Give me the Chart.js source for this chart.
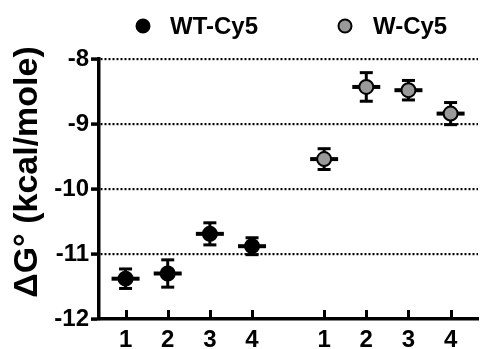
<!DOCTYPE html>
<html><head><meta charset="utf-8">
<script src="https://cdn.jsdelivr.net/npm/chart.js@4.4.1/dist/chart.umd.min.js"></script>
<style>html,body{margin:0;padding:0;background:#fff}</style>
</head><body>
<canvas id="c" width="487" height="349"></canvas>
<script>
// ---- data ----
const groupLabels = ['1', '2', '3', '4'];
const seriesNames = ['WT-Cy5', 'W-Cy5'];
const wtX = [1, 2, 3, 4];
const wX = [5.71, 6.71, 7.71, 8.71];
const wtMean = [-11.38, -11.30, -10.69, -10.88];
const wtErr = [0.15, 0.21, 0.17, 0.13];
const wMean = [-9.54, -8.43, -8.48, -8.84];
const wErr = [0.16, 0.22, 0.15, 0.17];
const yTicks = [-12, -11, -10, -9, -8];
const yTitle = 'ΔG° (kcal/mole)';

const FONT = "'Liberation Sans', Arial, Helvetica, sans-serif";
const seriesFill = ['#000000', '#999999'];
const xPositions = wtX.concat(wX);
const xLabels = groupLabels.concat(groupLabels);

function line(ctx, x1, y1, x2, y2) { ctx.beginPath(); ctx.moveTo(x1, y1); ctx.lineTo(x2, y2); ctx.stroke(); }

const errorBars = {
  id: 'errorBars',
  beforeDatasetsDraw(chart) {
    const ctx = chart.ctx, ys = chart.scales.y;
    chart.data.datasets.forEach((ds, di) => {
      const meta = chart.getDatasetMeta(di);
      meta.data.forEach((pt, i) => {
        const v = ds.data[i].y, e = ds.errors[i];
        const yt = ys.getPixelForValue(v + e), yb = ys.getPixelForValue(v - e);
        ctx.save();
        ctx.strokeStyle = '#000';
        ctx.lineWidth = 3;
        line(ctx, pt.x, yt, pt.x, yb);
        line(ctx, pt.x - 6.5, yt, pt.x + 6.5, yt);
        line(ctx, pt.x - 6.5, yb, pt.x + 6.5, yb);
        ctx.lineWidth = 4;
        line(ctx, pt.x - 14, pt.y, pt.x + 14, pt.y);
        ctx.restore();
      });
    });
  }
};

const inwardXTicks = {
  id: 'inwardXTicks',
  afterDraw(chart) {
    const ctx = chart.ctx, xs = chart.scales.x, bottom = chart.chartArea.bottom;
    ctx.save();
    ctx.strokeStyle = '#000';
    ctx.lineWidth = 3;
    xs.ticks.forEach(t => {
      const px = Math.round(xs.getPixelForValue(t.value)) + 0.5;
      line(ctx, px, bottom, px, bottom - 9);
    });
    ctx.restore();
  }
};

const legendAndTitle = {
  id: 'legendAndTitle',
  afterDraw(chart) {
    const ctx = chart.ctx;
    ctx.save();
    // legend
    const items = [{cx: 143, tx: 170}, {cx: 345, tx: 373}];
    ctx.font = 'bold 24px ' + FONT;
    ctx.textBaseline = 'middle';
    ctx.textAlign = 'left';
    chart.data.datasets.forEach((ds, i) => {
      const it = items[i];
      ctx.beginPath();
      ctx.arc(it.cx, 26, 6.5, 0, Math.PI * 2);
      ctx.fillStyle = ds.backgroundColor;
      ctx.fill();
      ctx.lineWidth = 2; ctx.strokeStyle = '#000'; ctx.stroke();
      ctx.fillStyle = '#000';
      ctx.fillText(ds.label, it.tx, 27);
    });
    // y title
    ctx.translate(28, 172);
    ctx.rotate(-Math.PI / 2);
    ctx.textAlign = 'center';
    ctx.font = 'bold 34px ' + FONT;
    ctx.fillText(yTitle, 0, 0);
    ctx.restore();
  }
};

new Chart(document.getElementById('c'), {
  type: 'scatter',
  data: {
    datasets: [
      { label: seriesNames[0], data: wtX.map((x, i) => ({x, y: wtMean[i]})), errors: wtErr,
        backgroundColor: seriesFill[0], borderColor: '#000', borderWidth: 2, pointRadius: 7, pointHoverRadius: 7 },
      { label: seriesNames[1], data: wX.map((x, i) => ({x, y: wMean[i]})), errors: wErr,
        backgroundColor: seriesFill[1], borderColor: '#000', borderWidth: 2, pointRadius: 7, pointHoverRadius: 7 }
    ]
  },
  options: {
    responsive: false, animation: false, devicePixelRatio: 1,
    layout: { padding: { top: 59, left: 0, right: 0, bottom: 0 } },
    plugins: { legend: { display: false }, tooltip: { enabled: false } },
    scales: {
      x: {
        type: 'linear', min: 0.37, max: 9.36,
        afterBuildTicks(scale) { scale.ticks = xPositions.map(v => ({value: v})); },
        afterFit(scale) { scale.height = 30; },
        ticks: { callback: (v, i) => xLabels[i], color: '#000', font: { family: FONT, size: 24, weight: 'bold' }, padding: 7, maxRotation: 0, autoSkip: false },
        grid: { drawOnChartArea: false, drawTicks: false },
        border: { display: true, color: '#000', width: 3.5 }
      },
      y: {
        min: -12, max: -8,
        afterBuildTicks(scale) { scale.ticks = yTicks.map(v => ({value: v})); },
        afterFit(scale) { scale.width = 99; },
        ticks: { color: '#000', font: { family: FONT, size: 24, weight: 'bold' }, padding: 2 },
        grid: { color: c => (c.tick && c.tick.value === -12) ? 'rgba(0,0,0,0)' : '#000', lineWidth: 2.2,
                drawTicks: true, tickLength: 8, tickWidth: 3.5, tickColor: '#000' },
        border: { display: true, color: '#000', width: 3.5, dash: [2, 2] }
      }
    }
  },
  plugins: [errorBars, inwardXTicks, legendAndTitle]
});
</script>
</body></html>
